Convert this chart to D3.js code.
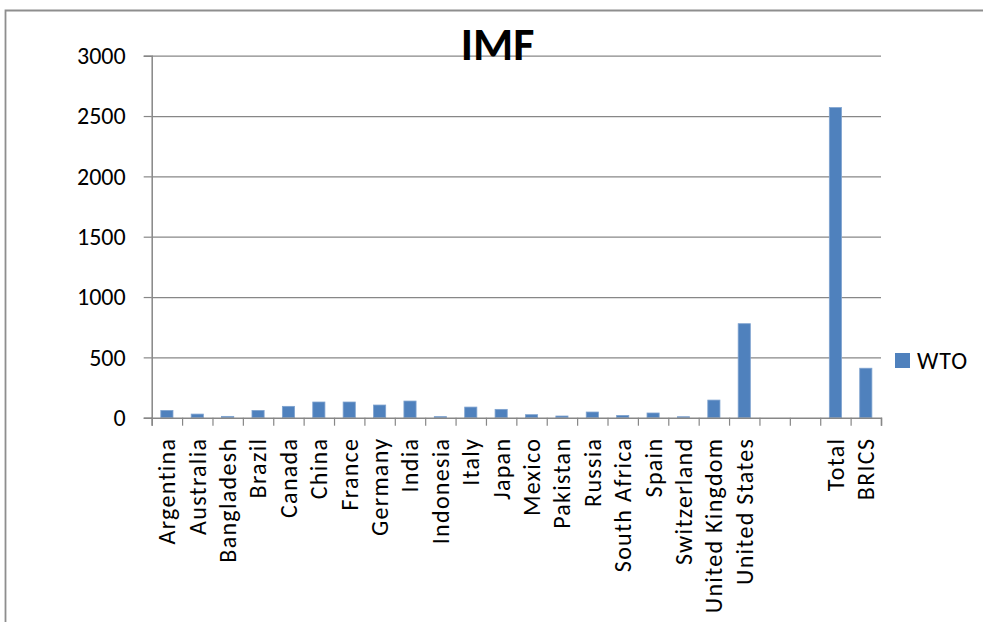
<!DOCTYPE html>
<html>
<head>
<meta charset="utf-8">
<script src="https://cdn.jsdelivr.net/npm/d3@7"></script>
<style>
  html, body { margin: 0; padding: 0; background: #fff; }
  svg { display: block; }
  text { font-family: Carlito, "Open Sans", Lato, sans-serif; fill: #000; }
</style>
</head>
<body>
<svg id="chart" width="983" height="622"></svg>
<script>
const categories = ["Argentina","Australia","Bangladesh","Brazil","Canada","China","France","Germany","India","Indonesia","Italy","Japan","Mexico","Pakistan","Russia","South Africa","Spain","Switzerland","United Kingdom","United States","","","Total","BRICS"];
const wtoValues = [60,30,11,60,94,130,130,105,138,9,88,69,25,14,47,19,39,8,146,779,null,null,2570,410];
const yTickValues = [0,500,1000,1500,2000,2500,3000];
const seriesName = "WTO";
const chartTitle = "IMF";

(function () {
const svg = d3.select("#chart");
const W = 983, H = 622;
const pLeft = 151.7, pRight = 881, pTop = 55.7, pBottom = 417.7;
const gridColor = "#878787";
const barColor = "#4F81BD";
const fs = "24px";

// chart border (left and top visible)
svg.append("path")
  .attr("d", `M5.5,${H} L5.5,10.5 L${W},10.5`)
  .attr("fill", "none").attr("stroke", "#8e8e8e").attr("stroke-width", 1.8);

const idx = d3.range(categories.length);
const x = d3.scaleBand().domain(idx).range([pLeft, pRight]).paddingInner(0.6).paddingOuter(0.3);
const xEdge = d3.scaleLinear().domain([0, categories.length]).range([pLeft, pRight]);
const y = d3.scaleLinear().domain([0, 3000]).range([pBottom, pTop]);

// gridlines
const grid = svg.append("g").attr("transform", `translate(${pLeft},0)`)
  .call(d3.axisLeft(y).tickValues(yTickValues.slice(1)).tickSize(-(pRight - pLeft)).tickFormat(""));
grid.select(".domain").remove();
grid.selectAll("line").attr("stroke", gridColor).attr("stroke-width", 1.2);

// bars
svg.append("g").selectAll("rect")
  .data(idx.filter(i => wtoValues[i] != null))
  .join("rect")
  .attr("x", i => x(i))
  .attr("width", x.bandwidth())
  .attr("y", i => y(wtoValues[i]))
  .attr("height", i => y(0) - y(wtoValues[i]))
  .attr("fill", barColor)
  .attr("stroke", "#7ea2cf").attr("stroke-width", 0.8);

// y axis
const yAxis = svg.append("g").attr("transform", `translate(${pLeft},0)`)
  .call(d3.axisLeft(y).tickValues(yTickValues).tickSize(8).tickPadding(18).tickFormat(d3.format("d")));
yAxis.select(".domain").attr("stroke", gridColor).attr("stroke-width", 1.5);
yAxis.selectAll("line").attr("stroke", gridColor).attr("stroke-width", 1.2);
yAxis.selectAll("text").style("font-size", fs).attr("fill", "#000");

// x axis with boundary ticks
const xAxis = svg.append("g").attr("transform", `translate(0,${pBottom})`)
  .call(d3.axisBottom(xEdge).tickValues(d3.range(categories.length + 1)).tickSize(8).tickFormat(""));
xAxis.select(".domain").attr("stroke", gridColor).attr("stroke-width", 1.5);
xAxis.selectAll("line").attr("stroke", gridColor).attr("stroke-width", 1.2);

// rotated category labels
svg.append("g").selectAll("text")
  .data(idx)
  .join("text")
  .attr("transform", i => `translate(${x(i) + x.bandwidth() / 2},${pBottom + 20}) rotate(-90)`)
  .attr("dy", "0.35em")
  .attr("text-anchor", "end")
  .style("font-size", fs)
  .style("letter-spacing", "1.3px")
  .text(i => categories[i]);

// title
svg.append("text")
  .attr("x", 497.5).attr("y", 60)
  .attr("text-anchor", "middle")
  .style("font-size", "46px").style("font-weight", "bold")
  .text(chartTitle);

// legend
const lg = svg.append("g").attr("transform", "translate(895,353)");
lg.append("rect").attr("width", 15).attr("height", 15).attr("fill", barColor);
lg.append("text").attr("x", 22).attr("y", 16).style("font-size", fs).style("letter-spacing", "1px").text(seriesName);
})();
</script>
</body>
</html>
